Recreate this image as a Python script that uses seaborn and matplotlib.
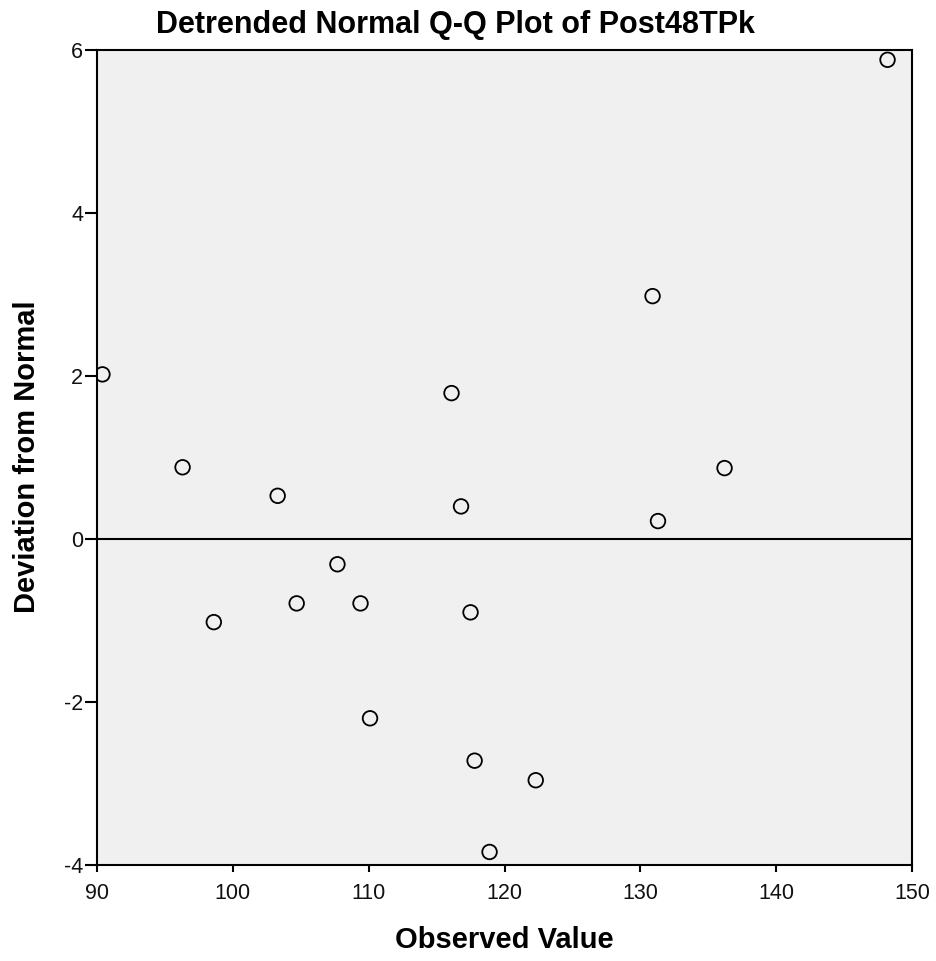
import matplotlib
matplotlib.use("Agg")
import matplotlib.pyplot as plt
import seaborn as sns
import pandas as pd

observed = [90.4, 96.3, 98.6, 103.3, 104.7, 107.7, 109.4, 110.1, 116.1, 116.8,
            117.5, 117.8, 118.9, 122.3, 130.9, 131.3, 136.2, 148.2]
deviation = [2.02, 0.88, -1.02, 0.53, -0.79, -0.31, -0.79, -2.20, 1.79, 0.40,
             -0.90, -2.72, -3.84, -2.96, 2.98, 0.22, 0.87, 5.88]
x_ticks = [90, 100, 110, 120, 130, 140, 150]
y_ticks = [-4, -2, 0, 2, 4, 6]

df = pd.DataFrame({"Observed Value": observed, "Deviation from Normal": deviation})

sns.set_theme(style="white")
plt.rcParams['font.family'] = ['Liberation Sans', 'DejaVu Sans']
plt.rcParams['axes.unicode_minus'] = False

fig = plt.figure(figsize=(9.36, 9.61), dpi=100)
W, H = 936, 961
ax = fig.add_axes([97 / W, 1 - 865 / H, (912 - 97) / W, (865 - 50) / H])
ax.set_facecolor("#F0F0F0")

ax.axhline(0, color="black", linewidth=1.5, zorder=1)
sns.scatterplot(data=df, x="Observed Value", y="Deviation from Normal", ax=ax,
                s=110, facecolor="none", edgecolor="black", linewidth=1.3, zorder=3)

ax.set_xlim(90, 150)
ax.set_ylim(-4, 6)
ax.set_xticks(x_ticks)
ax.set_yticks(y_ticks)
ax.tick_params(axis="both", direction="out", width=1.5, color="black",
               labelsize=15.5, labelcolor="#111111", left=True, bottom=True)
ax.tick_params(axis="x", length=5, pad=8)
ax.tick_params(axis="y", length=9, pad=1)
for sp in ax.spines.values():
    sp.set_visible(True)
    sp.set_color("black")
    sp.set_linewidth(1.5)

ax.set_xlabel("")
ax.set_ylabel("")
fig.text(504 / W, 1 - 940 / H, "Observed Value", ha="center", va="center",
         fontsize=21, fontweight="bold", color="black")
fig.text(27 / W, 1 - 457 / H, "Deviation from Normal", ha="center", va="center",
         rotation=90, fontsize=21, fontweight="bold", color="black")
fig.text(455 / W, 1 - 25 / H, "Detrended Normal Q-Q Plot of Post48TPk", ha="center",
         va="center", fontsize=22, fontweight="bold", color="black")

fig.savefig("out.png", dpi=100, facecolor="white")
